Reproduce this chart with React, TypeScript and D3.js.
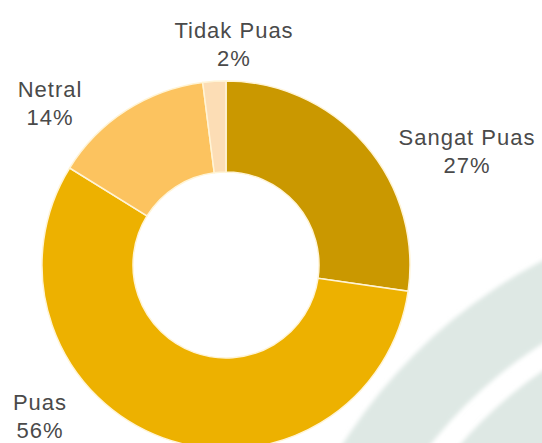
import React from "react";
import * as d3 from "d3";

const categories = ["Sangat Puas", "Puas", "Netral", "Tidak Puas"];
const values = [27, 56, 14, 2];
const percentLabels = ["27%", "56%", "14%", "2%"];
const colors = ["#CA9800", "#EDB100", "#FCC35F", "#FCDDB5"];

// layout (label anchor positions: center x, first baseline y)
const labelLayout = [
  { x: 467, y: 145 },
  { x: 40, y: 410 },
  { x: 50, y: 97 },
  { x: 234, y: 38 },
];

const W = 542;
const H = 443;
const CX = 226;
const CY = 265;
const R_OUT = 184;
const R_IN = 93;

export default function App() {
  const data = categories.map((c, i) => ({ name: c, value: values[i], label: percentLabels[i], color: colors[i] }));
  const pie = d3
    .pie<any>()
    .sort(null)
    .value((d: any) => d.value)
    .startAngle(0)
    .endAngle(2 * Math.PI);
  const arcs = pie(data);
  const arcGen = d3.arc<any>().innerRadius(R_IN).outerRadius(R_OUT);

  const wmC = { x: 780, y: 720 };
  const band = d3.arc<any>();
  const wm1 = band({ innerRadius: 445, outerRadius: 517, startAngle: -Math.PI, endAngle: 0 } as any);
  const wm2 = band({ innerRadius: 300, outerRadius: 422, startAngle: -Math.PI, endAngle: 0 } as any);

  return (
    <svg
      width={W}
      height={H}
      style={{ position: "absolute", left: 0, top: 0, background: "#ffffff" }}
    >
      <defs>
        <filter id="soft" x="-10%" y="-10%" width="120%" height="120%">
          <feGaussianBlur stdDeviation="2" />
        </filter>
      </defs>
      <g transform={`translate(${wmC.x},${wmC.y})`} filter="url(#soft)">
        <path d={wm1 || ""} fill="#dee8e4" />
        <path d={wm2 || ""} fill="#dee8e4" />
      </g>
      <g transform={`translate(${CX},${CY})`}>
        {arcs.map((a, i) => (
          <path key={i} d={arcGen(a) || ""} fill={a.data.color} stroke="#fff4d6" strokeWidth={1.5} />
        ))}
      </g>
      {arcs.map((a, i) => (
        <text
          key={"t" + i}
          x={labelLayout[i].x}
          y={labelLayout[i].y}
          textAnchor="middle"
          fontFamily="'Liberation Sans', Arial, sans-serif"
          fontSize={22}
          letterSpacing={1}
          fill="#4a4a4a"
        >
          <tspan x={labelLayout[i].x} dy={0}>{a.data.name}</tspan>
          <tspan x={labelLayout[i].x} dy={28}>{a.data.label}</tspan>
        </text>
      ))}
    </svg>
  );
}
